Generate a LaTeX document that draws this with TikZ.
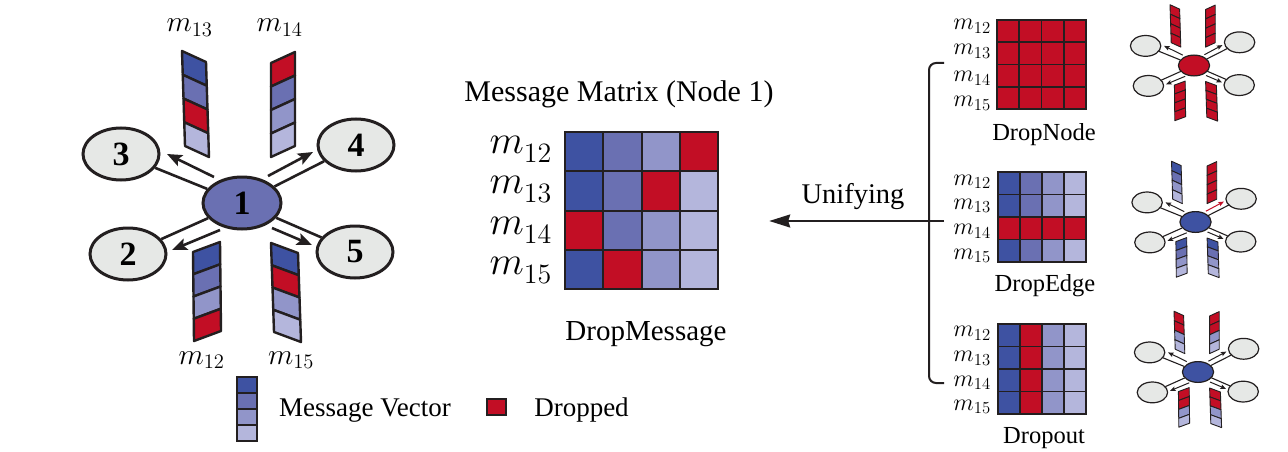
\documentclass[tikz,border=0pt]{standalone}
\usepackage[no-math]{fontspec}
\setmainfont{Liberation Serif}
\DeclareFontShape{OML}{cmm}{m}{it}{<-6> cmmi5 <6-8> cmmi7 <8-11> cmmi10 <11-> cmmi12}{}
\DeclareFontShape{OT1}{cmr}{m}{n}{<-6> cmr5 <6-8> cmr7 <8-11> cmr10 <11-> cmr12}{}
\usetikzlibrary{arrows.meta,shapes.geometric}
\definecolor{dk}{HTML}{231F20}
\definecolor{ca}{HTML}{3E52A2}
\definecolor{cb}{HTML}{6A70B2}
\definecolor{cc}{HTML}{9195C9}
\definecolor{cd}{HTML}{B4B6DC}
\definecolor{rd}{HTML}{C20E25}
\definecolor{gy}{HTML}{E6E8E6}
\newcommand\fs[1]{\fontsize{#1}{#1}\selectfont}
\newif\ifglab
\newcommand\gl[1]{\ifglab#1\fi}
\tikzset{
  gnode/.style={ellipse, draw=dk, fill=gy, line width=\nlw, minimum width=76pt,
    minimum height=52pt, inner sep=0pt, transform shape, font={\fs{34}\bfseries}},
  gedge/.style={draw=dk, line width=\elw},
  garr/.style={draw=dk, line width=\alw, -{Stealth[length=\aln,width=\awd,inset=\ains]}},
  txt/.style={inner sep=0pt, anchor=base},
}
% parallelogram bar: A corner, width vector, height vector, colour list macro
\newcommand\vbar[7]{%
  \foreach \vc [count=\vi from 0] in #7{%
    \filldraw[fill=\vc, draw=dk, line width=\vlw, line join=round]
      ({#1+\vi*(#5)/4},{#2+\vi*(#6)/4}) -- ++(#3,#4) -- ++({(#5)/4},{(#6)/4})
      -- ++({-(#3)},{-(#4)}) -- cycle;
  }%
}
% matrix grid: x0 y0 cw ch rows lw
\newcommand\mgrid[6]{%
  \foreach \rw [count=\ri from 0] in {#5}{%
    \foreach \vc [count=\ci from 0] in \rw {%
      \filldraw[fill=\vc, draw=dk, line width=#6]
        ({#1+\ci*#3},{#2+\ri*#4}) rectangle ++(#3,#4);
    }%
  }%
}
% graph: prefix, cx, cy, scale, centre fill, colour of arrow 4
\newcommand\gnet[6]{%
\begin{scope}[shift={(#2,#3)}, scale=#4]
  \node[gnode, fill=#5, minimum width=78pt] (#1n1) at (0,0) {\gl{1}};
  \node[gnode] (#1n3) at (-121,-49) {\gl{3}};
  \node[gnode] (#1n4) at (114,-58) {\gl{4}};
  \node[gnode] (#1n2) at (-114,51) {\gl{2}};
  \node[gnode] (#1n5) at (113,49) {\gl{5}};
  \draw[gedge] (#1n1) -- (#1n3);
  \draw[gedge] (#1n1) -- (#1n4);
  \draw[gedge] (#1n1) -- (#1n2);
  \draw[gedge] (#1n1) -- (#1n5);
  \coordinate (#1a3s) at (-28,-26); \coordinate (#1a3e) at (-75,-49);
  \coordinate (#1a4s) at (26,-27);  \coordinate (#1a4e) at (71,-51);
  \coordinate (#1a2s) at (-22,27);  \coordinate (#1a2e) at (-70,47);
  \coordinate (#1a5s) at (30,25);   \coordinate (#1a5e) at (70,42);
  \draw[garr] (#1a3s) -- (#1a3e);
  \draw[garr, draw=#6] (#1a4s) -- (#1a4e);
  \draw[garr] (#1a2s) -- (#1a2e);
  \draw[garr] (#1a5s) -- (#1a5e);
  \vbar{-60}{-152}{24}{11}{3}{95}{\vA}
  \vbar{29}{-140}{24}{-11}{0}{94}{\vB}
  \vbar{-49}{49}{27}{-10}{1}{89}{\vC}
  \vbar{29}{40}{27}{10}{3}{89}{\vD}
\end{scope}}
\begin{document}
\begin{tikzpicture}[x=1pt,y=-1pt]
\useasboundingbox (0,0) rectangle (1288,452);
\fill[white] (0,0) rectangle (1288,452);

% ---------- left graph ----------
\def\nlw{3pt}\def\elw{2.6pt}\def\vlw{2.4pt}\def\alw{2.6pt}\def\aln{15pt}\def\awd{12pt}\def\ains{3pt}
\def\vA{ca,cb,rd,cd}\def\vB{rd,cb,cc,cd}\def\vC{ca,cb,cc,rd}\def\vD{ca,rd,cc,cd}
\glabtrue
\gnet{L}{242}{203}{1}{cb}{dk}
\node[txt, font=\fs{29.5}] (l13) at (189.5,31.7) {$m_{13}$};
\node[txt, font=\fs{29.5}] (l14) at (279.5,31.7) {$m_{14}$};
\node[txt, font=\fs{29.5}] (l12) at (201.5,364) {$m_{12}$};
\node[txt, font=\fs{29.5}] (l15) at (291,364) {$m_{15}$};

% legend
\def\vlw{2pt}
\mgrid{237}{377}{20}{16}{{ca},{cb},{cc},{cd}}{2pt}
\node[txt, font=\fs{27}] (lgV) at (365,416) {Message Vector};
\node[draw=dk, fill=rd, line width=2pt, minimum width=19pt, minimum height=16pt, inner sep=0pt] (lgR) at (496.5,407) {};
\node[txt, font=\fs{27}] (lgD) at (581.5,416) {Dropped};

% ---------- centre matrix ----------
\node[txt, font=\fs{30}] (title) at (619,101.7) {Message Matrix (Node 1)};
\mgrid{565}{132}{38.25}{39.25}{{ca,cb,cc,rd},{ca,cb,rd,cd},{rd,cb,cc,cd},{ca,rd,cc,cd}}{2pt}
\node[inner sep=0pt, minimum width=153pt, minimum height=157pt] (M) at (641.5,210.5) {};
\node[txt, anchor=base east, font=\fs{40}] (c12) at (552,153) {$m_{12}$};
\node[txt, anchor=base east, font=\fs{40}] (c13) at (552,193.5) {$m_{13}$};
\node[txt, anchor=base east, font=\fs{40}] (c14) at (552,234) {$m_{14}$};
\node[txt, anchor=base east, font=\fs{40}] (c15) at (552,274.5) {$m_{15}$};
\node[txt, font=\fs{29}] (dm) at (646,340) {DropMessage};

% ---------- unifying ----------
\coordinate (bt) at (944,63); \coordinate (bb) at (944,383); \coordinate (bm) at (944,221);
\draw[dk, line width=2pt, rounded corners=7pt] (bt) -- (929,63) -- (929,383) -- (bb);
\draw[dk, line width=2pt, shorten >=51pt, -{Stealth[length=21pt,width=13pt,inset=2pt]}] (bm) -- (M.east |- bm);
\node[txt, font=\fs{28.5}] (uni) at (853,203.3) {Unifying};

% ---------- right matrices ----------
\mgrid{997}{20}{22.25}{22.25}{{rd,rd,rd,rd},{rd,rd,rd,rd},{rd,rd,rd,rd},{rd,rd,rd,rd}}{1.6pt}
\node[txt, anchor=base east, font=\fs{24}] (n12) at (991,29.3) {$m_{12}$};
\node[txt, anchor=base east, font=\fs{24}] (n13) at (991,55) {$m_{13}$};
\node[txt, anchor=base east, font=\fs{24}] (n14) at (991,81.7) {$m_{14}$};
\node[txt, anchor=base east, font=\fs{24}] (n15) at (991,106.7) {$m_{15}$};
\node[txt, font=\fs{24.5}] (dn) at (1044,140) {DropNode};

\mgrid{998}{172}{22}{22.5}{{ca,cb,cc,cd},{ca,cb,cc,cd},{rd,rd,rd,rd},{ca,cb,cc,cd}}{1.6pt}
\node[txt, anchor=base east, font=\fs{24}] (e12) at (991,185) {$m_{12}$};
\node[txt, anchor=base east, font=\fs{24}] (e13) at (991,209) {$m_{13}$};
\node[txt, anchor=base east, font=\fs{24}] (e14) at (991,234.3) {$m_{14}$};
\node[txt, anchor=base east, font=\fs{24}] (e15) at (991,259) {$m_{15}$};
\node[txt, font=\fs{24.5}] (de) at (1045,291.7) {DropEdge};

\mgrid{998}{324}{22}{22.5}{{ca,rd,cc,cd},{ca,rd,cc,cd},{ca,rd,cc,cd},{ca,rd,cc,cd}}{1.6pt}
\node[txt, anchor=base east, font=\fs{24}] (o12) at (991,336.7) {$m_{12}$};
\node[txt, anchor=base east, font=\fs{24}] (o13) at (991,361.7) {$m_{13}$};
\node[txt, anchor=base east, font=\fs{24}] (o14) at (991,386) {$m_{14}$};
\node[txt, anchor=base east, font=\fs{24}] (o15) at (991,410) {$m_{15}$};
\node[txt, font=\fs{24.5}] (do) at (1044,443.3) {Dropout};

% ---------- mini graphs ----------
\def\nlw{1.2pt}\def\elw{1.1pt}\def\vlw{0.9pt}\def\alw{1pt}\def\aln{5.5pt}\def\awd{4.5pt}\def\ains{1pt}
\glabfalse
\def\vA{rd,rd,rd,rd}\def\vB{rd,rd,rd,rd}\def\vC{rd,rd,rd,rd}\def\vD{rd,rd,rd,rd}
\gnet{N}{1194}{65.5}{0.4}{rd}{dk}
\def\vA{ca,cb,cc,cd}\def\vB{rd,rd,rd,rd}\def\vC{ca,cb,cc,cd}\def\vD{ca,cb,cc,cd}
\gnet{E}{1195.5}{222}{0.4}{ca}{rd}
\def\vA{rd,rd,cc,cd}\def\vB{rd,rd,cc,cd}\def\vC{rd,rd,cc,cd}\def\vD{rd,rd,cc,cd}
\gnet{O}{1198}{372}{0.4}{ca}{dk}
\end{tikzpicture}
\end{document}
